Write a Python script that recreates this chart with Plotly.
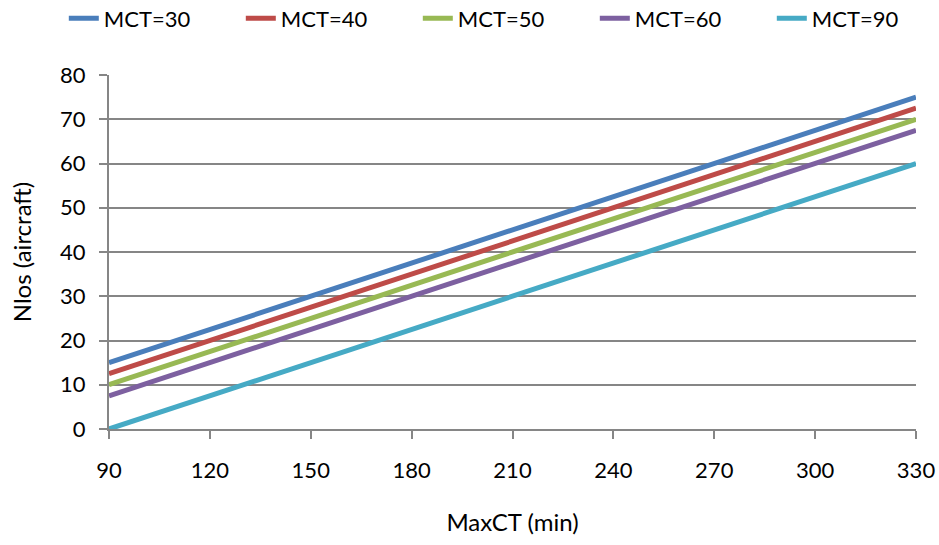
import plotly.graph_objects as go

max_ct = [90, 120, 150, 180, 210, 240, 270, 300, 330]
series_names = ["MCT=30", "MCT=40", "MCT=50", "MCT=60", "MCT=90"]
mct30 = [15, 22.5, 30, 37.5, 45, 52.5, 60, 67.5, 75]
mct40 = [12.5, 20, 27.5, 35, 42.5, 50, 57.5, 65, 72.5]
mct50 = [10, 17.5, 25, 32.5, 40, 47.5, 55, 62.5, 70]
mct60 = [7.5, 15, 22.5, 30, 37.5, 45, 52.5, 60, 67.5]
mct90 = [0, 7.5, 15, 22.5, 30, 37.5, 45, 52.5, 60]
colors = ["#4A7EBB", "#BE4B48", "#98B954", "#7D60A0", "#46AAC5"]
x_ticks = [90, 120, 150, 180, 210, 240, 270, 300, 330]
y_ticks = [0, 10, 20, 30, 40, 50, 60, 70, 80]

fig = go.Figure()
for name, ys, c in zip(series_names, [mct30, mct40, mct50, mct60, mct90], colors):
    fig.add_trace(go.Scatter(x=max_ct, y=ys, mode="lines", name=name,
                             line=dict(color=c, width=5), cliponaxis=False))

font = "Lato, 'Open Sans', sans-serif"
fig.update_layout(
    width=939, height=545,
    margin=dict(l=109, r=23, t=75, b=116, autoexpand=False),
    paper_bgcolor="white", plot_bgcolor="white",
    font=dict(family=font, size=22, color="black"),
    legend=dict(orientation="h", x=-0.056, xanchor="left", y=1.16, yanchor="middle",
                font=dict(size=22), tracegroupgap=0,
                entrywidth=132, entrywidthmode="pixels"),
    xaxis=dict(range=[90, 330], tickvals=x_ticks, showgrid=False, zeroline=False,
               showline=True, linecolor="#868686", linewidth=2, automargin=False,
               ticks="outside", ticklen=8, tickcolor="#868686", tickwidth=2,
               tickfont=dict(size=22),
               title=dict(text="MaxCT (min)", standoff=32, font=dict(size=24)),
               ticklabelstandoff=13),
    yaxis=dict(range=[0, 80], tickvals=y_ticks, showgrid=True, gridcolor="#868686",
               gridwidth=2, zeroline=False, showline=True, linecolor="#868686",
               linewidth=2, ticks="outside", ticklen=8, tickcolor="#868686", tickwidth=2,
               automargin=False, tickfont=dict(size=22),
               title=dict(text="Nlos (aircraft)", standoff=22, font=dict(size=24)),
               ticklabelstandoff=9),
)
fig.write_html("out.html")
